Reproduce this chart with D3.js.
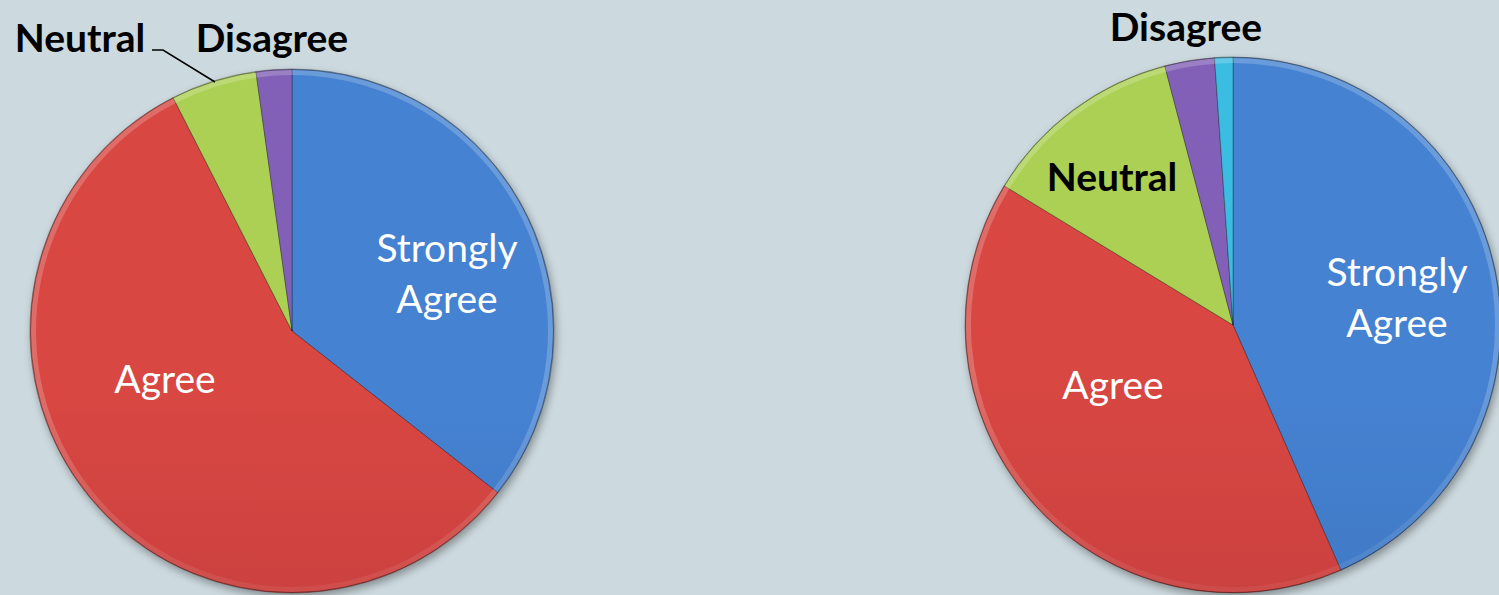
<!DOCTYPE html>
<html>
<head>
<meta charset="utf-8">
<script src="https://cdn.jsdelivr.net/npm/d3@7"></script>
<style>
  html, body { margin: 0; padding: 0; background: #ccd9de; }
  svg { display: block; }
</style>
</head>
<body>
<svg id="chart" width="1499" height="595"></svg>
<script>
// ---- Data ----
const categories = ["Strongly Agree", "Agree", "Neutral", "Disagree", "Strongly Disagree"];
const leftValues  = [35.6, 56.9, 5.3, 2.2, 0];
const rightValues = [43.4, 40.3, 12.2, 3.0, 1.1];
const sliceColors = ["#4079c4", "#c9413e", "#9fc24c", "#7a5aaa", "#36b0d2"];

// ---- Layout (not data) ----
const pies = [
  { values: leftValues,  cx: 292,  cy: 331, r: 262,
    labels: [
      { lines: ["Strongly", "Agree"], x: 447, y: 262, color: "#fff", bold: false },
      { lines: ["Agree"], x: 165, y: 393, color: "#fff", bold: false },
      { lines: ["Neutral"], x: 80, y: 52, color: "#000", bold: true },
      { lines: ["Disagree"], x: 272, y: 52, color: "#000", bold: true }
    ],
    leader: [[152, 50], [163, 50], [215, 82]]
  },
  { values: rightValues, cx: 1233, cy: 325, r: 268,
    labels: [
      { lines: ["Strongly", "Agree"], x: 1397, y: 286, color: "#fff", bold: false },
      { lines: ["Agree"], x: 1113, y: 399, color: "#fff", bold: false },
      { lines: ["Neutral"], x: 1112, y: 191, color: "#000", bold: true },
      { lines: ["Disagree"], x: 1186, y: 41, color: "#000", bold: true }
    ],
    leader: null
  }
];

const svg = d3.select("#chart");
const defs = svg.append("defs");

// drop shadow
const f = defs.append("filter").attr("id", "shadow").attr("x", "-10%").attr("y", "-10%").attr("width", "120%").attr("height", "125%");
f.append("feGaussianBlur").attr("in", "SourceAlpha").attr("stdDeviation", 4).attr("result", "b");
f.append("feOffset").attr("in", "b").attr("dx", 2).attr("dy", 4).attr("result", "o");
f.append("feComponentTransfer").attr("in", "o").attr("result", "s")
  .append("feFuncA").attr("type", "linear").attr("slope", 0.35);
const fm = f.append("feMerge");
fm.append("feMergeNode").attr("in", "s");
fm.append("feMergeNode").attr("in", "SourceGraphic");

const color = d3.scaleOrdinal().domain(categories).range(sliceColors);

pies.forEach((p, pi) => {
  categories.forEach((c, ci) => {
    const base = d3.color(color(c));
    const g = defs.append("linearGradient")
      .attr("id", `g${pi}_${ci}`)
      .attr("gradientUnits", "userSpaceOnUse")
      .attr("x1", 0).attr("x2", 0)
      .attr("y1", p.cy - p.r).attr("y2", p.cy + p.r);
    g.append("stop").attr("offset", "0%").attr("stop-color", base.brighter(0.2).formatHex());
    g.append("stop").attr("offset", "45%").attr("stop-color", base.formatHex());
    g.append("stop").attr("offset", "100%").attr("stop-color", base.darker(0.45).formatHex());
  });
  const bg = defs.append("linearGradient")
    .attr("id", `bevel${pi}`)
    .attr("gradientUnits", "userSpaceOnUse")
    .attr("x1", 0).attr("x2", 0)
    .attr("y1", p.cy - p.r).attr("y2", p.cy + p.r);
  bg.append("stop").attr("offset", "0%").attr("stop-color", "#fff").attr("stop-opacity", 0.2);
  bg.append("stop").attr("offset", "45%").attr("stop-color", "#fff").attr("stop-opacity", 0.03);
  bg.append("stop").attr("offset", "60%").attr("stop-color", "#000").attr("stop-opacity", 0.04);
  bg.append("stop").attr("offset", "100%").attr("stop-color", "#000").attr("stop-opacity", 0.22);

  const pie = d3.pie().sort(null).value(d => d.v);
  const data = pie(categories.map((c, i) => ({ c, i, v: p.values[i] })));
  const arc = d3.arc().innerRadius(0).outerRadius(p.r);
  const ring = d3.arc().innerRadius(p.r - 6).outerRadius(p.r);

  const g = svg.append("g").attr("transform", `translate(${p.cx},${p.cy})`);
  const slices = g.append("g").attr("filter", "url(#shadow)");
  slices.selectAll("path.slice")
    .data(data.filter(d => d.data.v > 0))
    .join("path")
    .attr("class", "slice")
    .attr("d", arc)
    .attr("fill", d => `url(#g${pi}_${d.data.i})`)
    .attr("stroke", "rgba(0,0,0,0.3)")
    .attr("stroke-width", 1)
    .attr("stroke-linejoin", "round");

  g.append("g").selectAll("path.rim")
    .data(data.filter(d => d.data.v > 0))
    .join("path")
    .attr("class", "rim")
    .attr("d", ring)
    .attr("fill", `url(#bevel${pi})`);
  g.append("circle").attr("r", p.r - 0.5).attr("fill", "none")
    .attr("stroke", "rgba(0,0,0,0.35)").attr("stroke-width", 1);

  p.labels.forEach(l => {
    const t = svg.append("text")
      .attr("x", l.x).attr("y", l.y)
      .attr("text-anchor", "middle")
      .attr("fill", l.color)
      .attr("font-family", "Lato, 'Open Sans', sans-serif")
      .attr("font-size", 39)
      .attr("font-weight", l.bold ? 700 : 400);
    l.lines.forEach((ln, k) => {
      t.append("tspan").attr("x", l.x).attr("dy", k === 0 ? 0 : 51).text(ln);
    });
  });
  if (p.leader) {
    svg.append("path")
      .attr("d", d3.line()(p.leader))
      .attr("fill", "none").attr("stroke", "#000").attr("stroke-width", 1.5);
  }
});
</script>
</body>
</html>
